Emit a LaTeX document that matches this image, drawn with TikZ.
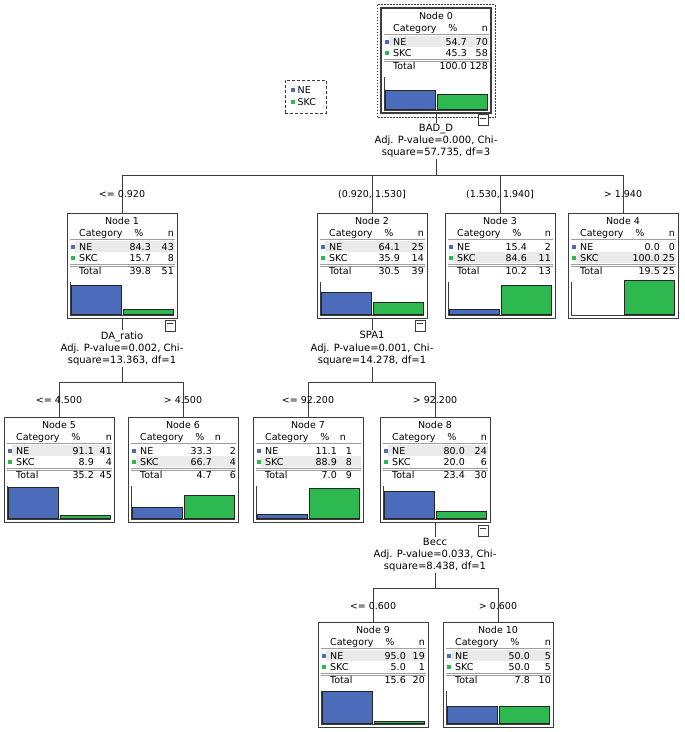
\documentclass[tikz,border=0pt]{standalone}
\usepackage{fontspec}
\setmainfont{DejaVu Sans}
\definecolor{neblue}{RGB}{75,107,187}
\definecolor{skcgreen}{RGB}{46,184,80}
\definecolor{hlgray}{RGB}{234,234,234}
\definecolor{linegray}{RGB}{60,60,60}
\tikzset{
 boxnode/.style={draw=linegray, line width=0.9pt, minimum width=110pt, minimum height=105pt, anchor=north west, inner sep=0pt, outer sep=0pt},
 tnextra/.style={},
 splitlab/.style={align=center, font=\fontsize{10}{12.2}\selectfont, inner sep=1pt, text=black},
 branchlab/.style={font=\fontsize{9.5}{11}\selectfont, inner sep=0pt, anchor=base, text=black},
 conn/.style={draw=linegray, line width=0.8pt},
 celltext/.style={font=\fontsize{9.5}{11}\selectfont, inner sep=0pt, text=black},
 barNE/.style={fill=neblue, draw=black!85, line width=0.8pt},
 barSKC/.style={fill=skcgreen, draw=black!85, line width=0.8pt},
 minusbox/.style={draw=linegray, fill=white, line width=0.7pt, minimum width=10pt, minimum height=11pt, inner sep=0pt},
 sepline/.style={draw=gray!75, line width=0.7pt},
 axisline/.style={draw=linegray, line width=0.8pt}
}
\newcommand\TreeNode[9]{%
 \def\tnName{#1}\def\tnX{#2}\def\tnY{#3}\def\tnNum{#4}\def\tnHL{#5}%
 \def\tnNEp{#6}\def\tnNEn{#7}\def\tnSKp{#8}\def\tnSKn{#9}%
 \TreeNodeB}
\newcommand\TreeNodeB[5]{%
 \node[boxnode,tnextra] (\tnName) at (\tnX,\tnY) {};
 \begin{scope}[shift={(\tnName.north west)}]
  \fill[hlgray] (8,\tnHL) rectangle (108,{\tnHL+11});
  \node[celltext, anchor=base] at (55,11) {Node \tnNum};
  \node[celltext, anchor=base west] at (12,23.5) {Category};
  \node[celltext, anchor=base] at (72,23.5) {\%};
  \node[celltext, anchor=base east] at (#4,23.5) {n};
  \draw[sepline] (3,26.5) -- (108,26.5);
  \fill[neblue] (3.5,31.5) rectangle (7.5,35.5);
  \fill[skcgreen] (3.5,42.5) rectangle (7.5,46.5);
  \node[celltext, anchor=base west] at (12,37) {NE};
  \node[celltext, anchor=base east] at (#3,37) {\tnNEp};
  \node[celltext, anchor=base east] at (#5,37) {\tnNEn};
  \node[celltext, anchor=base west] at (12,48) {SKC};
  \node[celltext, anchor=base east] at (#3,48) {\tnSKp};
  \node[celltext, anchor=base east] at (#5,48) {\tnSKn};
  \draw[sepline] (3,51) -- (108,51);
  \draw[sepline] (3,53.2) -- (108,53.2);
  \node[celltext, anchor=base west] at (12,61.5) {Total};
  \node[celltext, anchor=base east] at (#3,61.5) {#1};
  \node[celltext, anchor=base east] at (#5,61.5) {#2};
  \ifdim\tnNEp pt>0pt \draw[barNE] (4.5,101.3) rectangle (54.5,{101.3-\tnNEp*0.34});\fi
  \ifdim\tnSKp pt>0pt \draw[barSKC] (56,101.3) rectangle (106,{101.3-\tnSKp*0.34});\fi
  \draw[axisline] (3,69) -- (3,102.2) -- (107,102.2);
 \end{scope}}
\begin{document}
\begin{tikzpicture}[x=1pt,y=-1pt]
\fill[white] (0,0) rectangle (685,732);
\useasboundingbox (0,0) rectangle (685,732);

% legend
\node[draw=linegray, dash pattern=on 3pt off 2pt, line width=0.8pt, minimum width=41pt, minimum height=33pt, inner sep=0pt] (legend) at (305.5,96.5) {};
\fill[neblue] (291,88) rectangle (295,92);
\fill[skcgreen] (291,100) rectangle (295,104);
\node[celltext, anchor=base west] (legNE) at (297.5,93.3) {NE};
\node[celltext, anchor=base west] (legSKC) at (297.5,105.3) {SKC};

% nodes
\tikzset{tnextra/.style={line width=1.6pt}}
\TreeNode{n0}{381}{8}{0}{28}{54.7}{70}{45.3}{58}{100.0}{128}{86}{107}{107}
\tikzset{tnextra/.style={}}
\draw[linegray, line width=1pt, dash pattern=on 1.6pt off 1.4pt] (377,4.5) rectangle (495,117.5);
\TreeNode{n1}{67}{213}{1}{28}{84.3}{43}{15.7}{8}{39.8}{51}{84}{107}{107}
\TreeNode{n2}{317}{213}{2}{28}{64.1}{25}{35.9}{14}{30.5}{39}{83}{107}{107}
\TreeNode{n3}{445}{213}{3}{39}{15.4}{2}{84.6}{11}{10.2}{13}{82}{106}{106}
\TreeNode{n4}{568}{213}{4}{39}{0.0}{0}{100.0}{25}{19.5}{25}{92}{107}{107}
\TreeNode{n5}{4}{417}{5}{28}{91.1}{41}{8.9}{4}{35.2}{45}{90}{108}{108}
\TreeNode{n6}{128}{417}{6}{39}{33.3}{2}{66.7}{4}{4.7}{6}{84}{93}{108}
\TreeNode{n7}{253}{417}{7}{39}{11.1}{1}{88.9}{8}{7.0}{9}{84}{93}{99}
\TreeNode{n8}{380}{417}{8}{28}{80.0}{24}{20.0}{6}{23.4}{30}{85}{107}{107}
\TreeNode{n9}{318}{622}{9}{28}{95.0}{19}{5.0}{1}{15.6}{20}{88}{107}{107}
\TreeNode{n10}{443}{622}{10}{28}{50.0}{5}{50.0}{5}{7.8}{10}{87}{108}{108}

% minus boxes
\node[minusbox] (m0) at (483,120) {};
\node[minusbox] (m1) at (170,325.5) {};
\node[minusbox] (m2) at (420,325.5) {};
\node[minusbox] (m8) at (483,530.5) {};
\foreach \m in {m0,m1,m2,m8}{
 \draw[linegray, line width=0.7pt] ([xshift=2pt,yshift=-4pt]\m.north west) -- ([xshift=-2pt,yshift=-4pt]\m.north east);
}

% split labels
\node[splitlab] (s0) at (436,141) {BAD\_D\\Adj. P-value=0.000, Chi-\\square=57.735, df=3};
\node[splitlab] (s1) at (122,348.5) {DA\_ratio\\Adj. P-value=0.002, Chi-\\square=13.363, df=1};
\node[splitlab] (s2) at (372,348.5) {SPA1\\Adj. P-value=0.001, Chi-\\square=14.278, df=1};
\node[splitlab] (s8) at (435,555) {Becc\\Adj. P-value=0.033, Chi-\\square=8.438, df=1};

% junctions
\coordinate (j0) at (436,175.7);
\coordinate (j1) at (122,382);
\coordinate (j2) at (372,382);
\coordinate (j8) at (435,588);

% connectors
\draw[conn] (n0.south) -- (s0.north);
\draw[conn] (s0.south) -- (j0);
\draw[conn] (j0) -| (n1.north);
\draw[conn] (j0) -| (n2.north);
\draw[conn] (j0) -| (n3.north);
\draw[conn] (j0) -| (n4.north);
\draw[conn] (n1.south) -- (s1.north);
\draw[conn] (s1.south) -- (j1);
\draw[conn] (j1) -| (n5.north);
\draw[conn] (j1) -| (n6.north);
\draw[conn] (n2.south) -- (s2.north);
\draw[conn] (s2.south) -- (j2);
\draw[conn] (j2) -| (n7.north);
\draw[conn] (j2) -| (n8.north);
\draw[conn] (n8.south) -- (s8.north);
\draw[conn] (s8.south) -- (j8);
\draw[conn] (j8) -| (n9.north);
\draw[conn] (j8) -| (n10.north);

% branch labels
\node[branchlab] (b1) at (122,197.3) {<= 0.920};
\node[branchlab] (b2) at (372,197.3) {(0.920, 1.530]};
\node[branchlab] (b3) at (500,197.3) {(1.530, 1.940]};
\node[branchlab] (b4) at (623,197.3) {> 1.940};
\node[branchlab] (b5) at (59,403.3) {<= 4.500};
\node[branchlab] (b6) at (183,403.3) {> 4.500};
\node[branchlab] (b7) at (308,403.3) {<= 92.200};
\node[branchlab] (b8) at (435,403.3) {> 92.200};
\node[branchlab] (b9) at (373,609.3) {<= 0.600};
\node[branchlab] (b10) at (498,609.3) {> 0.600};
\end{tikzpicture}
\end{document}
